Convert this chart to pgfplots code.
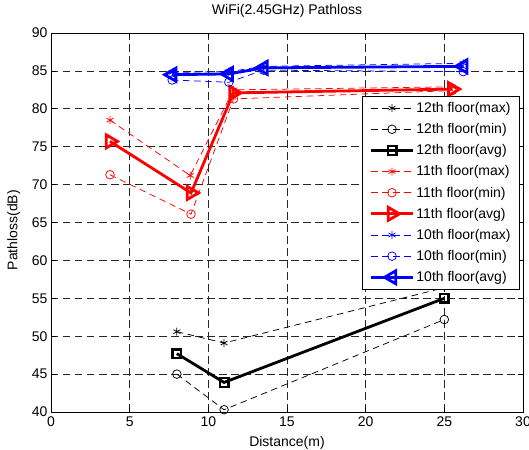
\documentclass[border=0pt]{standalone}
\usepackage{fontspec}
\setmainfont{Liberation Sans}
\usepackage{graphicx}
\usepackage{pgfplots}
\pgfplotsset{compat=1.18}
\begin{document}
\begin{tikzpicture}
\useasboundingbox (-51pt,-37pt) rectangle (478pt,412pt);
\begin{axis}[
  scale only axis, width=472pt, height=379pt,
  xmin=0, xmax=30, ymin=40, ymax=90,
  xtick={0,5,...,30}, ytick={40,45,...,90},
  tick align=inside, tick pos=both, major tick length=5pt,
  axis line style={line width=0.8pt},
  every tick/.style={black, line width=0.6pt},
  grid=major,
  major grid style={black!85, line width=0.7pt, dash pattern=on 7.5pt off 4.5pt},
  /pgf/number format/assume math mode=true,
  ticklabel style={font=\fontsize{14}{16}\selectfont},
  xticklabel style={yshift=-1pt},
  title={WiFi(2.45GHz) Pathloss},
  title style={at={(0.5,1)}, anchor=base, yshift=12pt, font=\fontsize{14}{16}\selectfont, inner sep=0pt},
  xlabel={Distance(m)},
  xlabel style={at={(0.5,0)}, anchor=base, yshift=-34pt, font=\fontsize{14}{16}\selectfont, inner sep=0pt},
  ylabel={\rotatebox{90}{Pathloss(dB)}},
  every axis y label/.style={at={(axis description cs:-0.079,0.48)}, anchor=center, font=\fontsize{14}{16}\selectfont, inner sep=0pt},
  legend style={at={(0.9936,0.834)}, anchor=north east, draw=black, line width=0.8pt,
    font=\fontsize{14}{16}\selectfont, row sep=5.5pt, inner xsep=7pt, inner ysep=4pt,
    nodes={inner sep=2pt}},
  legend cell align=left,
  legend image code/.code={\draw[mark repeat=2,mark phase=2] plot coordinates {(0pt,0pt) (21pt,0pt) (42pt,0pt)};},
  dl/.style={line width=0.75pt, dash pattern=on 6.5pt off 4.5pt, mark options={solid, line width=0.75pt}},
  sl/.style={line width=2.8pt, mark options={solid, line width=2.4pt}},
]
% 12th floor
\addplot[black, dl, mark=asterisk, mark size=4pt] coordinates {(8,50.6) (11,49.1) (25,56.4)};
\addplot[black, dl, mark=o, mark size=4.3pt] coordinates {(8,45.0) (11,40.3) (25,52.2)};
\addplot[black, sl, mark=square, mark size=4.3pt] coordinates {(8,47.7) (11,43.9) (25,55.0)};
% 11th floor
\addplot[red, dl, mark=asterisk, mark size=4pt] coordinates {(3.75,78.5) (8.85,71.2) (11.6,82.5) (25.5,82.9)};
\addplot[red, dl, mark=o, mark size=4.3pt] coordinates {(3.75,71.3) (8.9,66.1) (11.6,81.3) (25.5,82.4)};
\addplot[red, sl, mark=triangle, mark size=7.5pt, mark options={rotate=-90}] coordinates {(3.75,75.7) (8.9,68.9) (11.6,82.1) (25.5,82.6)};
% 10th floor
\addplot[blue, dl, mark=asterisk, mark size=4pt] coordinates {(7.7,84.8) (11.3,84.9) (13.5,85.6) (26.2,86.0)};
\addplot[blue, dl, mark=o, mark size=4.3pt] coordinates {(7.7,83.8) (11.3,83.5) (13.5,85.1) (26.2,84.9)};
\addplot[blue, sl, mark=triangle, mark size=7.5pt, mark options={rotate=90}] coordinates {(7.7,84.5) (11.3,84.6) (13.5,85.4) (26.2,85.6)};
\legend{12th floor(max),12th floor(min),12th floor(avg),11th floor(max),11th floor(min),11th floor(avg),10th floor(max),10th floor(min),10th floor(avg)}
\end{axis}
\end{tikzpicture}
\end{document}
